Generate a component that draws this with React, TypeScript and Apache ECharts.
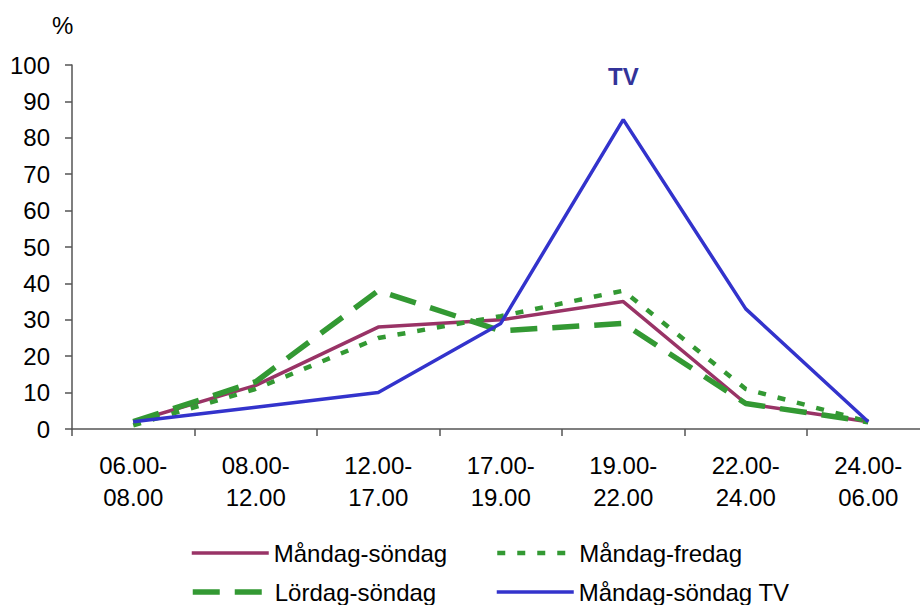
import React, { useEffect, useRef } from "react";
import * as echarts from "echarts";

const categories = ["06.00-\n08.00", "08.00-\n12.00", "12.00-\n17.00", "17.00-\n19.00", "19.00-\n22.00", "22.00-\n24.00", "24.00-\n06.00"];
const mandagSondag = [2, 12, 28, 30, 35, 7, 2];
const mandagFredag = [1, 11, 25, 31, 38, 11, 2];
const lordagSondag = [2, 13, 38, 27, 29, 7, 2];
const mandagSondagTV = [2, 6, 10, 29, 85, 33, 2];
const yTicks = { min: 0, max: 100, interval: 10 };

const FONT = "Liberation Sans, Arial, sans-serif";

const styles: Record<string, any> = {
  "Måndag-söndag": { color: "#993366", width: 3.5, type: "solid" },
  "Måndag-fredag": { color: "#339933", width: 4.5, type: [8, 12] },
  "Lördag-söndag": { color: "#339933", width: 5.5, type: [27, 15] },
  "Måndag-söndag TV": { color: "#3333CC", width: 3.5, type: "solid" },
};

export default function App() {
  const ref = useRef<HTMLDivElement>(null);
  useEffect(() => {
    if (!ref.current) return;
    const chart = echarts.init(ref.current, null, { renderer: "svg" });
    const legendText = { fontFamily: FONT, fontSize: 24, color: "#000" };
    const mkLegend = (name: string, left: number, top: number) => ({
      data: [name],
      left,
      top,
      padding: 0,
      itemWidth: 77,
      itemHeight: 14,
      textStyle: legendText,
      selectedMode: false,
      itemStyle: { opacity: 0 },
      lineStyle: { ...styles[name], cap: "butt", dashOffset: 0 },
    });
    const mkSeries = (name: string, data: number[]) => ({
      name,
      type: "line",
      data,
      symbol: "none",
      lineStyle: { ...styles[name], cap: "butt" },
      itemStyle: { color: styles[name].color },
    });
    chart.setOption({
      animation: false,
      backgroundColor: "#fff",
      textStyle: { fontFamily: FONT },
      grid: { left: 72, top: 65, width: 857.5, height: 364, outerBoundsMode: "none", containLabel: false },
      legend: [
        mkLegend("Måndag-söndag", 190, 541),
        mkLegend("Måndag-fredag", 495, 541),
        mkLegend("Lördag-söndag", 190, 580),
        mkLegend("Måndag-söndag TV", 495, 580),
      ],
      graphic: [
        {
          type: "text",
          left: 52,
          top: 13,
          style: { text: "%", fontFamily: FONT, fontSize: 24, fill: "#000" },
        },
        {
          type: "text",
          left: 608,
          top: 64,
          style: { text: "TV", fontFamily: FONT, fontSize: 24, fontWeight: "bold", fill: "#333399" },
        },
      ],
      xAxis: {
        type: "category",
        data: categories,
        boundaryGap: true,
        axisLine: { lineStyle: { color: "#555", width: 1.5 } },
        axisTick: { show: true, length: 7, lineStyle: { color: "#555", width: 1.5 } },
        axisLabel: {
          margin: 20,
          fontFamily: FONT,
          fontSize: 24,
          lineHeight: 32,
          color: "#000",
          interval: 0,
          hideOverlap: false,
        },
      },
      yAxis: {
        type: "value",
        min: yTicks.min,
        max: yTicks.max,
        interval: yTicks.interval,
        splitLine: { show: false },
        axisLine: { show: true, lineStyle: { color: "#555", width: 1.5 } },
        axisTick: { show: true, length: 7, lineStyle: { color: "#555", width: 1.5 } },
        axisLabel: { margin: 22, fontFamily: FONT, fontSize: 24, color: "#000" },
      },
      series: [
        mkSeries("Måndag-söndag", mandagSondag),
        mkSeries("Måndag-fredag", mandagFredag),
        mkSeries("Lördag-söndag", lordagSondag),
        mkSeries("Måndag-söndag TV", mandagSondagTV),
      ],
    });
    return () => chart.dispose();
  }, []);
  return (
    <div
      ref={ref}
      style={{ position: "absolute", left: 0, top: 0, width: 920, height: 605, overflow: "hidden" }}
    />
  );
}
